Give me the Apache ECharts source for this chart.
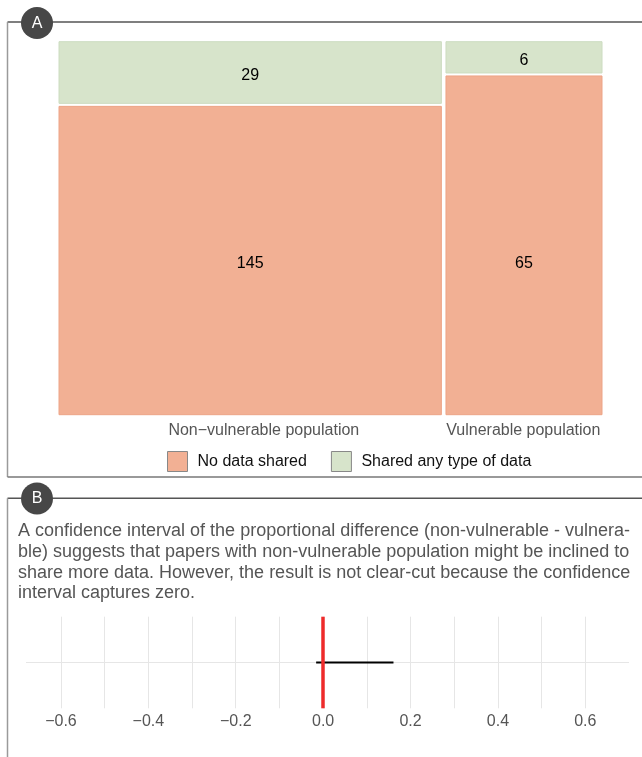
<!DOCTYPE html>
<html>
<head>
<meta charset="utf-8">
<script src="https://cdn.jsdelivr.net/npm/echarts@6/dist/echarts.min.js"></script>
<style>
  html, body { margin: 0; padding: 0; background: #fff; }
  #chart { width: 642px; height: 757px; }
</style>
</head>
<body>
<div id="chart"></div>
<script>
// Panel A: papers per population group, split by whether any data was shared
const groups = ['Non\u2212vulnerable population', 'Vulnerable population'];
const noDataShared = [145, 65];
const sharedAnyData = [29, 6];
const outcomes = ['No data shared', 'Shared any type of data'];

// Panel B: confidence interval of the proportional difference
const ciLower = -0.016;
const ciUpper = 0.161;
const referenceValue = 0;
const majorBreaks = [-0.6, -0.4, -0.2, 0, 0.2, 0.4, 0.6];
const minorBreaks = [-0.5, -0.3, -0.1, 0.1, 0.3, 0.5];

const captionLines = [
  'A confidence interval of the proportional difference (non-vulnerable - vulnera-',
  'ble) suggests that papers with non-vulnerable population might be inclined to',
  'share more data. However, the result is not clear-cut because the confidence',
  'interval captures zero.'
];

const FONT = '"Liberation Sans", Arial, Helvetica, sans-serif';
const COLORS = { none: '#F2B094', shared: '#D7E4CB' };
const BORDERS = ['#EDA487', '#CCDCC0'];
const GAP_X = 4.6;          // spacing between mosaic columns (px)
const GAP_Y = 3;            // spacing between stacked tiles (px)
const TEXT_DROP = 3.5;      // count labels sit a little under the tile centre
const GROUP_LABEL_SHIFT = [24, 0]; // left padding applied to each group label

// Mosaic geometry: column widths follow group totals, heights follow within-group shares
const totals = groups.map((g, i) => noDataShared[i] + sharedAnyData[i]);
const grand = totals.reduce((a, b) => a + b, 0);
let running = 0;
const colBounds = totals.map(t => {
  const x0 = running / grand;
  running += t;
  return [x0, running / grand];
});
const noShares = groups.map((g, i) => noDataShared[i] / totals[i]);
// labels of the lower row share one baseline: half of the smallest lower tile
const lowerLabelY = Math.min.apply(null, noShares) / 2;

// [x0, x1, y0, y1, count, column, row, labelY]
const noCells = groups.map((g, i) =>
  [colBounds[i][0], colBounds[i][1], 0, noShares[i], noDataShared[i], i, 0, lowerLabelY]);
const sharedCells = groups.map((g, i) =>
  [colBounds[i][0], colBounds[i][1], noShares[i], 1, sharedAnyData[i], i, 1, (noShares[i] + 1) / 2]);
const nCols = groups.length, nRows = 2;

function cellRenderer(params, api) {
  const x0 = api.value(0), x1 = api.value(1), y0 = api.value(2), y1 = api.value(3);
  const col = api.value(5), row = api.value(6), ly = api.value(7);
  const origin = api.coord([0, 0]);
  const corner = api.coord([1, 1]);
  const usableW = (corner[0] - origin[0]) - GAP_X * (nCols - 1);
  const usableH = (origin[1] - corner[1]) - GAP_Y * (nRows - 1);
  const left = origin[0] + x0 * usableW + col * GAP_X;
  const right = origin[0] + x1 * usableW + col * GAP_X;
  const bottom = origin[1] - y0 * usableH - row * GAP_Y;
  const top = origin[1] - y1 * usableH - row * GAP_Y;
  const labelY = origin[1] - ly * usableH - row * GAP_Y + TEXT_DROP;
  return {
    type: 'group',
    children: [
      { type: 'rect', shape: { x: left, y: top, width: right - left, height: bottom - top },
        style: { fill: api.visual('color'), stroke: BORDERS[params.seriesIndex], lineWidth: 1 } },
      { type: 'text',
        style: { text: String(api.value(4)), x: (left + right) / 2, y: labelY,
                 align: 'center', verticalAlign: 'middle',
                 font: '16px ' + FONT, fill: '#000' } }
    ]
  };
}

// group label positions: centre of each column on the mosaic's x scale
const colCenters = colBounds.map(b => (b[0] + b[1]) / 2);

function fmtTick(v) {
  const r = Math.round(v * 10) / 10;
  return (r < 0 ? '\u2212' : '') + Math.abs(r).toFixed(1);
}

const allBreaks = majorBreaks.concat(minorBreaks).sort((a, b) => a - b);

const groupRich = {};
groups.forEach((g, i) => {
  groupRich['g' + i] = { fontSize: 16, color: '#555', padding: [0, 0, 0, GROUP_LABEL_SHIFT[i]] };
});

const chart = echarts.init(document.getElementById('chart'), null, { renderer: 'canvas' });

chart.setOption({
  animation: false,
  backgroundColor: '#fff',
  textStyle: { fontFamily: FONT },
  grid: [
    { left: 59, right: 40, top: 41.7, bottom: 342.3 },
    { left: 26, right: 13, top: 616.7, bottom: 48.7 }
  ],
  xAxis: [
    {
      gridIndex: 0, type: 'value', min: 0, max: 1,
      axisLine: { show: false }, axisTick: { show: false }, splitLine: { show: false },
      axisLabel: {
        customValues: colCenters,
        formatter: function (v) {
          let best = 0;
          colCenters.forEach((c, i) => { if (Math.abs(c - v) < Math.abs(colCenters[best] - v)) best = i; });
          return '{g' + best + '|' + groups[best] + '}';
        },
        rich: groupRich,
        fontSize: 16, color: '#555', margin: 8
      }
    },
    {
      gridIndex: 1, type: 'value', min: -0.68, max: 0.70,
      axisLine: { show: false },
      axisTick: { show: false, customValues: allBreaks },
      splitLine: { show: true, lineStyle: { color: '#e6e6e6', width: 1 } },
      axisLabel: { customValues: majorBreaks, formatter: fmtTick, fontSize: 16, color: '#555', margin: 5 }
    }
  ],
  yAxis: [
    { gridIndex: 0, type: 'value', min: 0, max: 1, show: false },
    {
      gridIndex: 1, type: 'value', min: -1, max: 1,
      axisLine: { show: false }, axisLabel: { show: false },
      axisTick: { show: false, customValues: [0] },
      splitLine: { show: true, lineStyle: { color: '#e6e6e6', width: 1 } }
    }
  ],
  legend: {
    data: outcomes,
    left: 167, top: 451, padding: 0,
    itemWidth: 20, itemHeight: 20, itemGap: 24,
    icon: 'rect', selectedMode: false,
    itemStyle: { borderColor: '#888', borderWidth: 1 },
    textStyle: { fontSize: 16, color: '#111', padding: [0, 0, 0, 5] }
  },
  series: [
    {
      name: outcomes[0], type: 'custom', xAxisIndex: 0, yAxisIndex: 0,
      color: COLORS.none, renderItem: cellRenderer,
      encode: { x: [0, 1], y: [2, 3] }, data: noCells, silent: true
    },
    {
      name: outcomes[1], type: 'custom', xAxisIndex: 0, yAxisIndex: 0,
      color: COLORS.shared, renderItem: cellRenderer,
      encode: { x: [0, 1], y: [2, 3] }, data: sharedCells, silent: true
    },
    {
      name: 'interval', type: 'line', xAxisIndex: 1, yAxisIndex: 1,
      data: [[ciLower, 0], [ciUpper, 0]], symbol: 'none', silent: true, z: 3,
      lineStyle: { color: '#000', width: 2 }
    },
    {
      name: 'zero', type: 'line', xAxisIndex: 1, yAxisIndex: 1,
      data: [], silent: true, z: 5,
      markLine: {
        symbol: 'none', silent: true, label: { show: false },
        lineStyle: { color: '#EE2B2B', width: 3.5, type: 'solid' },
        data: [{ xAxis: referenceValue }]
      }
    }
  ],
  graphic: [
    // panel A frame
    { type: 'line', shape: { x1: 7.5, y1: 22, x2: 642, y2: 22 }, style: { stroke: '#555', lineWidth: 1.5 } },
    { type: 'line', shape: { x1: 7.5, y1: 22, x2: 7.5, y2: 477 }, style: { stroke: '#9a9a9a', lineWidth: 1.5 } },
    { type: 'line', shape: { x1: 7.5, y1: 477, x2: 642, y2: 477 }, style: { stroke: '#777', lineWidth: 1.5 } },
    // panel B frame
    { type: 'line', shape: { x1: 7.5, y1: 498.3, x2: 642, y2: 498.3 }, style: { stroke: '#555', lineWidth: 1.5 } },
    { type: 'line', shape: { x1: 7.5, y1: 498.3, x2: 7.5, y2: 757 }, style: { stroke: '#9a9a9a', lineWidth: 1.5 } },
    // panel badges
    { type: 'circle', shape: { cx: 37, cy: 23, r: 16 }, style: { fill: '#474747' } },
    { type: 'text', style: { text: 'A', x: 37, y: 23.5, align: 'center', verticalAlign: 'middle', font: '16px ' + FONT, fill: '#fff' } },
    { type: 'circle', shape: { cx: 37, cy: 498.5, r: 16 }, style: { fill: '#474747' } },
    { type: 'text', style: { text: 'B', x: 37, y: 499, align: 'center', verticalAlign: 'middle', font: '16px ' + FONT, fill: '#fff' } },
    // caption for panel B
    { type: 'text', style: { text: captionLines.join('\n'), x: 18, y: 521.2, font: '18px ' + FONT, lineHeight: 20.6, fill: '#555' } }
  ]
});
</script>
</body>
</html>
